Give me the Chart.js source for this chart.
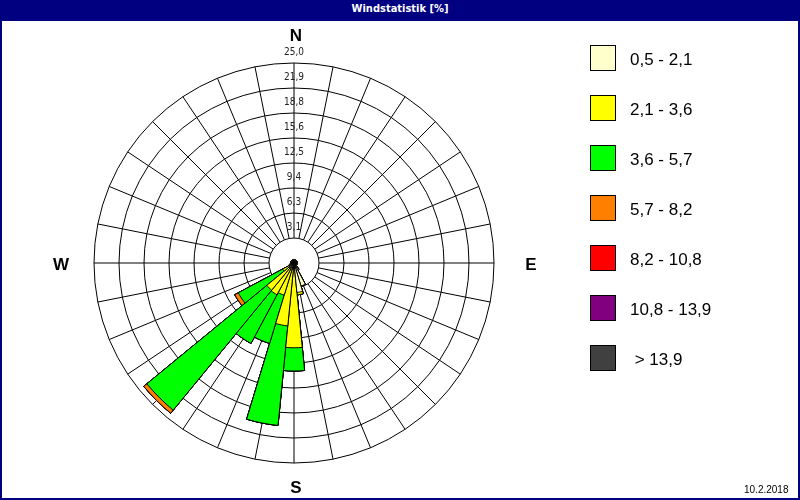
<!DOCTYPE html>
<html>
<head>
<meta charset="utf-8">
<script src="https://cdn.jsdelivr.net/npm/chart.js@4"></script>
<style>
  html, body { margin:0; padding:0; background:#fff; }
  #wrap { position:relative; width:800px; height:500px; overflow:hidden; background:#fff; }
  #frame { position:absolute; left:0; top:0; width:796px; height:498px; border-left:2px solid #000080; border-right:2px solid #000080; border-bottom:2px solid #000080; box-sizing:content-box; }
  #titlebar { position:absolute; left:0; top:0; width:800px; height:21px; background:#000080; color:#fff; font:bold 11px "DejaVu Sans Condensed", "Liberation Sans", Arial, sans-serif; text-align:center; line-height:18px; }
  canvas { position:absolute; left:0; top:0; }
  .dir { position:absolute; font:bold 17px "Liberation Sans", Arial, sans-serif; color:#000; width:30px; text-align:center; line-height:20px; }
  .leg { position:absolute; left:590px; width:24px; height:24px; border:1px solid #000; }
  .legt { position:absolute; left:630px; font:17px "Liberation Sans", Arial, sans-serif; color:#000; line-height:20px; white-space:pre; }
  #date { position:absolute; left:744px; top:484px; font:10px "Liberation Sans", Arial, sans-serif; color:#000; }
</style>
</head>
<body>
<div id="wrap">
  <canvas id="c" width="800" height="500"></canvas>
  <div id="frame"></div>
  <div id="titlebar">Windstatistik [%]</div>
  <div class="dir" style="left:281px;top:26px;">N</div>
  <div class="dir" style="left:46px;top:255px;">W</div>
  <div class="dir" style="left:516px;top:255px;">E</div>
  <div class="dir" style="left:281px;top:478px;">S</div>
  <div id="legend"></div>
  <div id="date">10.2.2018</div>
</div>
<script>
// 32 directions, clockwise from N
const directions = ['N','NzO','NNO','NOzN','NO','NOzO','ONO','OzN','O','OzS','OSO','SOzO','SO','SOzS','SSO','SzO',
                    'S','SzW','SSW','SWzS','SW','SWzW','WSW','WzS','W','WzN','WNW','NWzW','NW','NWzN','NNW','NzW'];
const bandLabels = ['0,5 - 2,1', '2,1 - 3,6', '3,6 - 5,7', '5,7 - 8,2', '8,2 - 10,8', '10,8 - 13,9', ' > 13,9'];
const bandColors = ['#FFFFCC', '#FFFF00', '#00FF00', '#FF8000', '#FF0000', '#800080', '#404040'];
const ringLabels = ['3,1', '6,3', '9,4', '12,5', '15,6', '18,8', '21,9', '25,0'];

// frequency (%) per speed band, per direction
const band1 = [0.4,0.4,0.4,0.4,0.4,0.4,0.4,0.4,0.4,0.4,0.4,0.4,0.4,1.0,3.0,3.7, 0.8,0.8,0.8,0.8,0.8,0.6,0.6,0.4,0.4,0.4,0.4,0.4,0.4,0.4,0.4,0.4];
const band2 = [0,0,0,0,0,0,0,0,0,0,0,0,0,0,0,0.3, 9.8,7.1,3.4,3.7,3.6,1.0,0,0,0,0,0,0,0,0,0,0];
const band3 = [0,0,0,0,0,0,0,0,0,0,0,0,0,0,0,0, 2.9,12.5,6.3,6.9,19.4,6.3,0,0,0,0,0,0,0,0,0,0];
const band4 = [0,0,0,0,0,0,0,0,0,0,0,0,0,0,0,0, 0,0,0,0,0.5,0.5,0,0,0,0,0,0,0,0,0,0];
const band5 = new Array(32).fill(0);
const band6 = new Array(32).fill(0);
const band7 = new Array(32).fill(0);

const bands = [band1, band2, band3, band4, band5, band6, band7];
const RMAX = 25, RSTEP = 3.125;

const cum = [];
bands.forEach((b, i) => {
  cum.push(b.map((v, j) => v + (i ? cum[i-1][j] : 0)));
});
const datasets = cum.map((vals, i) => ({
  label: bandLabels[i],
  data: vals,
  backgroundColor: bandColors[i],
  borderColor: '#000',
  borderWidth: 1
}));

const legend = document.getElementById('legend');
bandLabels.forEach((t, i) => {
  const y = 45 + i * 50;
  const sq = document.createElement('div');
  sq.className = 'leg'; sq.style.top = y + 'px'; sq.style.background = bandColors[i];
  legend.appendChild(sq);
  const tx = document.createElement('div');
  tx.className = 'legt'; tx.style.top = (y + 5) + 'px'; tx.textContent = t;
  legend.appendChild(tx);
});

const gridPlugin = {
  id: 'roseGrid',
  beforeDatasetsDraw(chart) {
    const s = chart.scales.r, ctx = chart.ctx;
    ctx.save();
    ctx.strokeStyle = '#000'; ctx.lineWidth = 1;
    const nRings = Math.round(RMAX / RSTEP);
    for (let k = 1; k < nRings; k++) {
      const r0 = s.getDistanceFromCenterForValue(k * RSTEP);
      const r1 = s.getDistanceFromCenterForValue((k + 1) * RSTEP);
      const n = 32;
      for (let i = 0; i < n; i++) {
        const a = (i / n) * 2 * Math.PI - Math.PI / 2;
        ctx.beginPath();
        ctx.moveTo(s.xCenter + r0 * Math.cos(a), s.yCenter + r0 * Math.sin(a));
        ctx.lineTo(s.xCenter + r1 * Math.cos(a), s.yCenter + r1 * Math.sin(a));
        ctx.stroke();
      }
    }
    ctx.restore();
  },
  afterDatasetsDraw(chart) {
    const s = chart.scales.r, ctx = chart.ctx;
    ctx.save();
    ctx.font = '10px "DejaVu Sans Condensed", "Liberation Sans", Arial, sans-serif';
    ctx.fillStyle = '#222';
    ctx.textAlign = 'center';
    ctx.textBaseline = 'middle';
    ringLabels.forEach((t, i) => {
      const r = s.getDistanceFromCenterForValue((i + 1) * RSTEP);
      ctx.fillText(t, s.xCenter, s.yCenter - r - 11);
    });
    ctx.restore();
  }
};

new Chart(document.getElementById('c'), {
  type: 'polarArea',
  data: { labels: directions, datasets },
  options: {
    responsive: false,
    animation: false,
    layout: { padding: { left: 94, right: 306, top: 63, bottom: 37 } },
    plugins: { legend: { display: false }, tooltip: { enabled: false }, title: { display: false } },
    scales: {
      r: {
        min: 0, max: RMAX,
        startAngle: -180 / 32,
        ticks: { display: false, stepSize: RSTEP },
        grid: { circular: true, color: '#000', lineWidth: 1 },
        angleLines: { display: false },
        pointLabels: { display: false }
      }
    }
  },
  plugins: [gridPlugin]
});
</script>
</body>
</html>
